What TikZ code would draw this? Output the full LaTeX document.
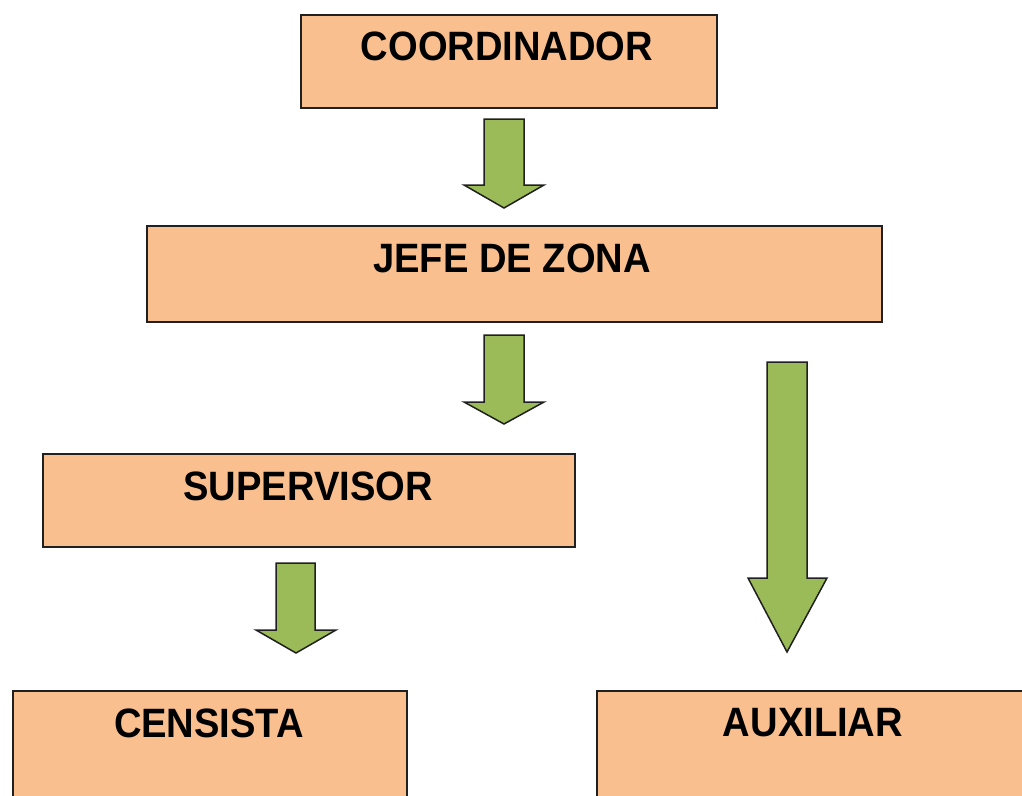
\documentclass[tikz,border=0pt]{standalone}
\usepackage{fontspec}
\setmainfont{Liberation Sans}
\definecolor{boxfill}{HTML}{F9BF8F}
\definecolor{arrfill}{HTML}{9BBB59}
\definecolor{edge}{HTML}{202020}
\begin{document}
\begin{tikzpicture}[x=1pt,y=-1pt,
  box/.style={draw=edge,line width=1.8pt,fill=boxfill,inner sep=0pt,anchor=north west},
  lbl/.style={font=\bfseries\fontsize{41}{44}\selectfont,inner sep=0pt,anchor=center},
  blockarrow/.style={draw=edge,line width=1.5pt,fill=arrfill,line join=miter}]
\useasboundingbox (0,0) rectangle (1022,795);
\clip (0,0) rectangle (1022,795);
% boxes
\node[box,minimum width=416pt,minimum height=93pt] (coord) at (300,14) {};
\node[box,minimum width=735pt,minimum height=96pt] (jefe) at (146,225) {};
\node[box,minimum width=532pt,minimum height=93pt] (sup) at (42,453) {};
\node[box,minimum width=394pt,minimum height=130pt] (cens) at (12,690) {};
\node[box,minimum width=440pt,minimum height=130pt] (aux) at (596,690) {};
% labels
\node[lbl] (tcoord) at (507,46) {\scalebox{0.93}[1]{COORDINADOR}};
\node[lbl] (tjefe) at (512,258) {\scalebox{0.93}[1]{JEFE DE ZONA}};
\node[lbl] (tsup) at (308,486) {\scalebox{0.93}[1]{SUPERVISOR}};
\node[lbl] (tcens) at (209,723) {\scalebox{0.93}[1]{CENSISTA}};
\node[lbl] (taux) at (813,723) {\scalebox{0.93}[1]{AUXILIAR}};
% block arrows
\draw[blockarrow] (484,119) -- (524,119) -- (524,185) -- (544,185) -- (504,208) -- (464,185) -- (484,185) -- cycle;
\draw[blockarrow] (484,335) -- (524,335) -- (524,402) -- (544,402) -- (504,424) -- (464,402) -- (484,402) -- cycle;
\draw[blockarrow] (276,563) -- (315,563) -- (315,630) -- (336,630) -- (296,653) -- (256,630) -- (276,630) -- cycle;
\draw[blockarrow] (767,362) -- (807,362) -- (807,578) -- (827,578) -- (787,652) -- (748,578) -- (767,578) -- cycle;
\end{tikzpicture}
\end{document}
